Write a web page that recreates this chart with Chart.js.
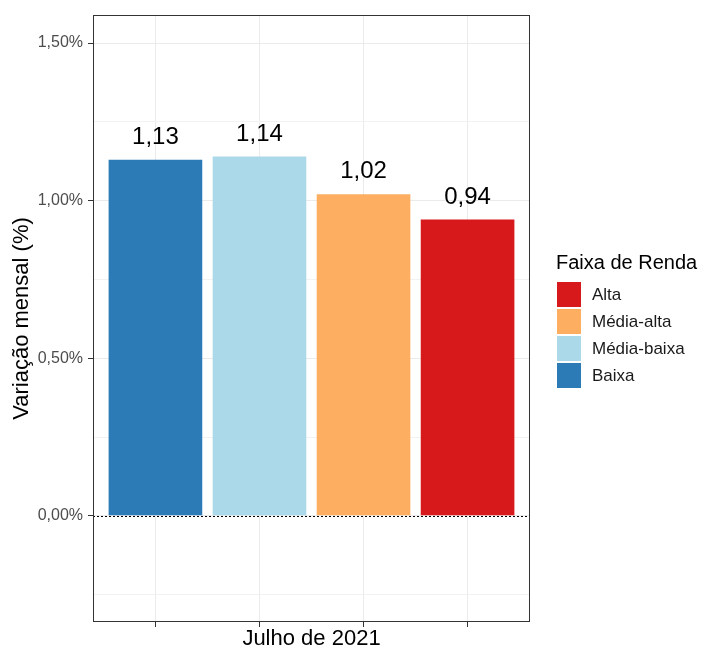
<!DOCTYPE html>
<html>
<head>
<meta charset="utf-8">
<script src="https://cdn.jsdelivr.net/npm/chart.js@4/dist/chart.umd.min.js"></script>
<style>
  html, body { margin: 0; padding: 0; background: #fff; }
</style>
</head>
<body>
<canvas id="chart" width="713" height="652"></canvas>
<script>
const categories = ['Baixa', 'Média-baixa', 'Média-alta', 'Alta']
const values = [1.13, 1.14, 1.02, 0.94]
const colors = ['#2c7bb6', '#abd9e9', '#fdae61', '#d7191c']
const yTicks = [-0.25, 0, 0.25, 0.5, 0.75, 1.0, 1.25, 1.5]
const xTitle = 'Julho de 2021'
const yTitle = 'Variação mensal (%)'
const legendTitle = 'Faixa de Renda'

const FONT = '"Liberation Sans", Arial, sans-serif'

function fmt(v, d) {
    return v.toFixed(d).replace('.', ',')
}

const isMajor = v => Math.abs(v * 2 - Math.round(v * 2)) < 1e-9

const extras = {
    id: 'extras',
    afterDatasetsDraw(chart) {
        const ctx = chart.ctx
        const area = chart.chartArea
        const y0 = chart.scales.y.getPixelForValue(0)

        // dotted zero line
        ctx.save()
        ctx.strokeStyle = '#000'
        ctx.lineWidth = 1
        ctx.setLineDash([2, 2])
        ctx.beginPath()
        ctx.moveTo(area.left, Math.round(y0) + 0.5)
        ctx.lineTo(area.right, Math.round(y0) + 0.5)
        ctx.stroke()
        ctx.restore()

        // value labels
        const meta = chart.getDatasetMeta(0)
        ctx.save()
        ctx.fillStyle = '#000'
        ctx.font = '24px ' + FONT
        ctx.textAlign = 'center'
        ctx.textBaseline = 'alphabetic'
        meta.data.forEach((bar, i) => {
            ctx.fillText(fmt(values[i], 2), bar.x, bar.y - 16)
        })
        ctx.restore()
    },
    afterDraw(chart) {
        const ctx = chart.ctx
        const area = chart.chartArea

        // panel border
        ctx.save()
        ctx.strokeStyle = '#333'
        ctx.lineWidth = 1
        ctx.strokeRect(area.left + 0.5, area.top + 0.5, area.right - area.left - 1, area.bottom - area.top - 1)
        ctx.restore()

        // legend
        ctx.save()
        ctx.fillStyle = '#000'
        ctx.font = '20px ' + FONT
        ctx.textAlign = 'left'
        ctx.textBaseline = 'alphabetic'
        ctx.fillText(legendTitle, 556, 269)
        ctx.font = '17px ' + FONT
        ctx.textBaseline = 'middle'
        const order = [3, 2, 1, 0]
        order.forEach((k, j) => {
            const top = 282 + j * 27
            ctx.fillStyle = colors[k]
            ctx.fillRect(557, top, 24, 25)
            ctx.fillStyle = '#1a1a1a'
            ctx.fillText(categories[k], 592, top + 13)
        })
        ctx.restore()
    }
}

new Chart(document.getElementById('chart').getContext('2d'), {
    type: 'bar',
    data: {
        datasets: [{
            label: legendTitle,
            data: values.map((v, i) => ({ x: i, y: v })),
            backgroundColor: colors,
            borderWidth: 0,
            barPercentage: 0.9,
            categoryPercentage: 1
        }]
    },
    options: {
        responsive: false,
        animation: false,
        layout: { padding: { left: 0, right: 183, top: 15, bottom: 0 } },
        plugins: {
            legend: { display: false },
            tooltip: { enabled: false }
        },
        scales: {
            x: {
                type: 'linear',
                min: -0.6,
                max: 3.6,
                offset: false,
                afterBuildTicks: s => { s.ticks = [0, 1, 2, 3].map(v => ({ value: v })) },
                afterFit: s => { s.height = 30 },
                grid: {
                    offset: false,
                    color: '#ebebeb',
                    lineWidth: 1,
                    drawTicks: true,
                    tickLength: 5,
                    tickColor: '#333'
                },
                border: { display: false },
                ticks: { display: false },
                title: {
                    display: true,
                    text: xTitle,
                    color: '#000',
                    font: { family: FONT, size: 22 },
                    padding: 0
                }
            },
            y: {
                type: 'linear',
                min: -0.337,
                max: 1.589,
                afterBuildTicks: s => { s.ticks = yTicks.map(v => ({ value: v })) },
                afterFit: s => { s.width = 93 },
                grid: {
                    color: ctx => (ctx.tick && isMajor(ctx.tick.value)) ? '#ebebeb' : '#f2f2f2',
                    lineWidth: 1,
                    drawTicks: true,
                    tickLength: 5,
                    tickColor: ctx => (ctx.tick && isMajor(ctx.tick.value)) ? '#333' : 'rgba(0,0,0,0)'
                },
                border: { display: false },
                ticks: {
                    color: '#4d4d4d',
                    padding: 5,
                    font: { family: FONT, size: 16 },
                    callback: v => isMajor(v) ? fmt(v, 2) + '%' : ''
                },
                title: {
                    display: true,
                    text: yTitle,
                    color: '#000',
                    font: { family: FONT, size: 22 },
                    padding: { top: 9, bottom: 0 }
                }
            }
        }
    },
    plugins: [extras]
})
</script>
</body>
</html>
